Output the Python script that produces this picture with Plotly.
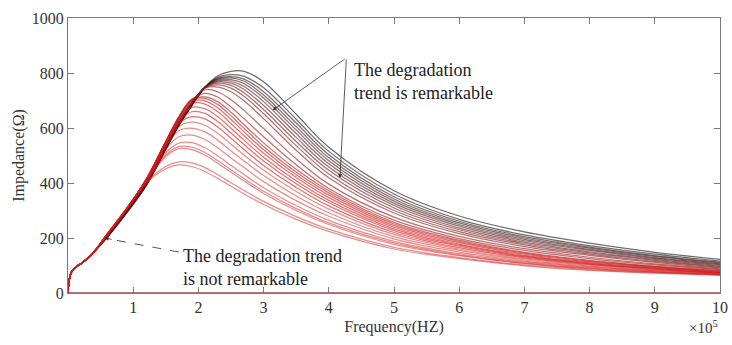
import plotly.graph_objects as go

# Frequency axis in units of 1e5 Hz
FREQ_LOW = [0, 0.015, 0.05, 0.12, 0.22, 0.4]
# Low-frequency part shared by every measurement (Ohm)
Z_LOW = [0, 40, 75, 95, 110, 150]

FREQ_HIGH = [0.6, 0.9, 1.2, 1.5, 1.7, 1.9, 2.1, 2.3, 2.5, 2.7, 3.0, 3.5, 4.0, 5.0, 6.0, 7.0, 8.0, 9.0, 10.0]

# Impedance from 0.6e5 Hz upward, one row per measurement, ordered from the
# least degraded (lowest resonance peak) to the most degraded.
Z_HIGH = [
    [212, 304, 400, 452, 466, 460, 442, 416, 388, 360, 322, 268, 224, 160, 125, 99, 82, 72, 64],
    [213, 305, 402, 460, 477, 473, 456, 430, 401, 373, 333, 278, 232, 166, 129, 102, 85, 74, 66],
    [213, 306, 405, 496, 525, 521, 501, 471, 439, 407, 362, 300, 249, 177, 136, 107, 88, 76, 67],
    [214, 307, 406, 502, 532, 530, 511, 481, 448, 416, 370, 307, 255, 182, 139, 109, 90, 77, 68],
    [214, 307, 407, 510, 545, 547, 528, 498, 464, 431, 383, 318, 264, 188, 143, 112, 92, 79, 69],
    [214, 308, 408, 523, 568, 574, 558, 527, 491, 456, 405, 336, 279, 197, 149, 116, 95, 81, 70],
    [214, 308, 410, 533, 590, 599, 586, 555, 517, 480, 427, 353, 292, 205, 155, 120, 98, 83, 71],
    [213, 308, 411, 539, 605, 621, 610, 580, 541, 502, 446, 369, 305, 213, 160, 124, 101, 85, 72],
    [213, 307, 412, 543, 616, 641, 633, 603, 563, 522, 464, 384, 317, 220, 165, 128, 104, 87, 73],
    [213, 307, 413, 546, 624, 659, 653, 623, 582, 540, 480, 397, 328, 227, 170, 131, 106, 89, 74],
    [212, 306, 414, 549, 631, 675, 670, 641, 599, 556, 494, 408, 337, 233, 174, 134, 108, 90, 75],
    [212, 306, 414, 551, 637, 689, 687, 659, 616, 572, 508, 420, 347, 239, 178, 137, 110, 92, 76],
    [211, 305, 413, 552, 640, 698, 699, 673, 631, 586, 521, 430, 356, 245, 183, 141, 113, 94, 78],
    [211, 304, 412, 551, 641, 703, 708, 685, 644, 599, 533, 440, 364, 251, 188, 145, 116, 96, 80],
    [210, 303, 411, 550, 640, 705, 713, 695, 657, 612, 546, 450, 372, 257, 192, 148, 119, 98, 82],
    [209, 302, 405, 545, 636, 702, 726, 712, 676, 634, 568, 466, 380, 265, 198, 155, 125, 102, 85],
    [208, 301, 403, 542, 632, 698, 739, 731, 703, 664, 598, 488, 396, 276, 206, 161, 130, 106, 88],
    [207, 300, 401, 538, 627, 694, 745, 749, 732, 699, 634, 519, 419, 291, 216, 169, 137, 111, 91],
    [206, 299, 399, 535, 623, 692, 746, 757, 745, 715, 652, 536, 433, 300, 223, 175, 141, 115, 94],
    [205, 298, 397, 532, 620, 690, 747, 763, 755, 728, 667, 551, 446, 309, 230, 180, 146, 119, 97],
    [205, 297, 396, 530, 617, 688, 747, 768, 763, 740, 682, 566, 458, 318, 236, 185, 150, 122, 100],
    [204, 296, 395, 528, 615, 686, 748, 771, 770, 751, 696, 580, 470, 326, 243, 190, 155, 126, 103],
    [204, 295, 394, 526, 613, 685, 748, 775, 776, 761, 709, 593, 481, 334, 249, 195, 159, 129, 106],
    [203, 294, 393, 525, 611, 684, 748, 778, 782, 770, 720, 605, 492, 342, 255, 200, 163, 133, 109],
    [203, 293, 392, 524, 610, 683, 748, 781, 787, 778, 732, 618, 503, 350, 261, 205, 167, 136, 112],
    [202, 292, 391, 523, 609, 682, 748, 784, 794, 788, 746, 632, 515, 360, 268, 211, 172, 141, 116],
    [202, 291, 390, 522, 608, 681, 748, 790, 806, 806, 768, 650, 530, 372, 280, 222, 181, 148, 122],
]

X_TICKS = [1, 2, 3, 4, 5, 6, 7, 8, 9, 10]
Y_TICKS = [0, 200, 400, 600, 800, 1000]

FONT = "Times New Roman, Liberation Serif, serif"
AXIS_GREY = "#7a7a7a"


def curve_color(k, n):
    # red for the early measurements, fading through dark red to black
    t = min(max((k - 11) / (n - 12), 0.0), 1.0)
    r = int(212 - 192 * t)
    g = int(28 - 8 * t)
    b = int(28 - 8 * t)
    alpha = 0.5 if k < 8 else 0.62
    return f"rgba({r},{g},{b},{alpha})"


fig = go.Figure()
n = len(Z_HIGH)
freq = FREQ_LOW + FREQ_HIGH
for k in reversed(range(n)):
    fig.add_trace(go.Scatter(
        x=freq,
        y=Z_LOW + Z_HIGH[k],
        mode="lines",
        line=dict(color=curve_color(k, n), width=1.25, shape="spline", smoothing=1.0),
        hoverinfo="skip",
        showlegend=False,
    ))

axis_common = dict(
    showgrid=False, zeroline=False, showline=True, linecolor=AXIS_GREY, linewidth=1,
    mirror="allticks", ticks="inside", ticklen=6, tickcolor=AXIS_GREY, tickwidth=1,
    tickfont=dict(family=FONT, size=16, color="#333"),
)

fig.update_layout(
    width=732, height=345,
    margin=dict(l=68, r=4, t=18, b=52),
    paper_bgcolor="white", plot_bgcolor="white",
    font=dict(family=FONT, size=16, color="#333"),
    showlegend=False,
    xaxis=dict(
        range=[0, 10], tickvals=X_TICKS, ticktext=[str(v) for v in X_TICKS],
        ticklabeloverflow="allow",
        title=dict(text="Frequency(HZ)", font=dict(family=FONT, size=16, color="#333"), standoff=5),
        **axis_common,
    ),
    yaxis=dict(
        range=[0, 1000], tickvals=Y_TICKS, ticktext=[str(v) for v in Y_TICKS],
        title=dict(text="Impedance(Ω)", font=dict(family=FONT, size=16, color="#333"), standoff=3),
        **axis_common,
    ),
)

# reddish baseline along zero impedance
fig.add_shape(type="line", xref="x", yref="y", x0=0, x1=10, y0=0, y1=0,
              line=dict(color="#a04848", width=1.3))

text_font = dict(family=FONT, size=18, color="#222")
arrow_style = dict(showarrow=True, arrowhead=2, arrowsize=1, arrowwidth=0.8,
                   arrowcolor="#333", text="", axref="x", ayref="y")

fig.add_annotation(x=4.35, y=853, xref="x", yref="y", xanchor="left", yanchor="top",
                   align="left", showarrow=False, font=text_font,
                   text="The degradation<br>trend is remarkable")
fig.add_annotation(x=3.14, y=665, ax=4.27, ay=855, **arrow_style)
fig.add_annotation(x=4.17, y=418, ax=4.27, ay=855, **arrow_style)

fig.add_annotation(x=1.74, y=180, xref="x", yref="y", xanchor="left", yanchor="top",
                   align="left", showarrow=False, font=text_font,
                   text="The degradation trend<br>is not remarkable")
fig.add_shape(type="line", xref="x", yref="y", x0=1.70, y0=149, x1=0.62, y1=197,
              line=dict(color="#555", width=1, dash="dash"))
fig.add_annotation(x=0.56, y=200, ax=0.694, ay=194, **arrow_style)

fig.add_annotation(x=1, y=-0.125, xref="paper", yref="paper", xanchor="right",
                   yanchor="middle", showarrow=False,
                   font=dict(family=FONT, size=15, color="#333"),
                   text="×10<sup>5</sup>")

fig.write_html("out.html")
